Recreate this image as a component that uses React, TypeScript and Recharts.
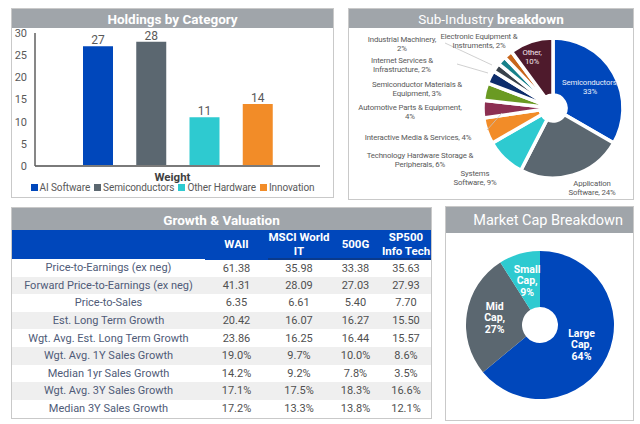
import React from "react";
import { BarChart, Bar, XAxis, YAxis, Cell, LabelList, PieChart, Pie } from "recharts";

const FONT = "Roboto, 'Noto Sans', sans-serif";
const TITLE_GRAY = "#a0a5aa";
const TEXT_GRAY = "#595959";
const BORDER = "#c9c9c9";
const BLUE = "#0047bb";

// Holdings by category
const CATEGORIES = ["AI Software", "Semiconductors", "Other Hardware", "Innovation"];
const CATEGORY_WEIGHTS = [27, 28, 11, 14];
const CATEGORY_COLORS = ["#0047bb", "#5b6770", "#2ecad0", "#f28c28"];
const WEIGHT_TICKS = [0, 5, 10, 15, 20, 25, 30];

// Sub-industry breakdown
const SUB_INDUSTRIES = [
  "Semiconductors",
  "Application Software",
  "Systems Software",
  "Technology Hardware Storage & Peripherals",
  "Interactive Media & Services",
  "Automotive Parts & Equipment",
  "Semiconductor Materials & Equipment",
  "Internet Services & Infrastructure",
  "Industrial Machinery",
  "Electronic Equipment & Instruments",
  "Other",
];
const SUB_WEIGHTS = [33, 24, 9, 6, 4, 4, 3, 2, 2, 2, 10];
const SUB_COLORS = [
  "#0047bb", "#5b6770", "#2ecad0", "#f28c28", "#8c2f52", "#6a9a22",
  "#0d2d6c", "#3a434c", "#17818a", "#c8661a", "#4e1a2c",
];
const SUB_LABEL_LINES = [
  ["Semiconductors,", "33%"],
  ["Application", "Software, 24%"],
  ["Systems", "Software, 9%"],
  ["Technology Hardware Storage &", "Peripherals, 6%"],
  ["Interactive Media & Services, 4%"],
  ["Automotive Parts & Equipment,", "4%"],
  ["Semiconductor Materials &", "Equipment, 3%"],
  ["Internet Services &", "Infrastructure, 2%"],
  ["Industrial Machinery,", "2%"],
  ["Electronic Equipment &", "Instruments, 2%"],
  ["Other,", "10%"],
];

// Market cap
const CAP_NAMES = ["Large Cap", "Mid Cap", "Small Cap"];
const CAP_WEIGHTS = [64, 27, 9];
const CAP_COLORS = ["#0047bb", "#5b6770", "#2ecad0"];

// Growth & valuation table
const METRICS = [
  "Price-to-Earnings (ex neg)",
  "Forward Price-to-Earnings (ex neg)",
  "Price-to-Sales",
  "Est. Long Term Growth",
  "Wgt. Avg. Est. Long Term Growth",
  "Wgt. Avg. 1Y Sales Growth",
  "Median 1yr Sales Growth",
  "Wgt. Avg. 3Y Sales Growth",
  "Median 3Y Sales Growth",
];
const BENCHMARKS = [["WAII"], ["MSCI World", "IT"], ["500G"], ["SP500", "Info Tech"]];
const WAII = ["61.38", "41.31", "6.35", "20.42", "23.86", "19.0%", "14.2%", "17.1%", "17.2%"];
const MSCI_WORLD_IT = ["35.98", "28.09", "6.61", "16.07", "16.25", "9.7%", "9.2%", "17.5%", "13.3%"];
const SP500_GROWTH = ["33.38", "27.03", "5.40", "16.27", "16.44", "10.0%", "7.8%", "18.3%", "13.8%"];
const SP500_INFO_TECH = ["35.63", "27.93", "7.70", "15.50", "15.57", "8.6%", "3.5%", "16.6%", "12.1%"];

// label placement around the sub-industry pie (offsets from the pie centre)
const SUB_LABEL_LAYOUT: { dx: number; dy: number; fill: string; line?: number[] }[] = [
  { dx: 37, dy: -21, fill: "#e8eefa" },
  { dx: 39, dy: 80, fill: TEXT_GRAY },
  { dx: -78, dy: 70, fill: TEXT_GRAY },
  { dx: -133, dy: 52, fill: TEXT_GRAY },
  { dx: -135, dy: 29, fill: TEXT_GRAY, line: [-66, 22, -51, 5] },
  { dx: -143, dy: 4, fill: TEXT_GRAY },
  { dx: -136, dy: -19, fill: TEXT_GRAY },
  { dx: -151, dy: -43, fill: TEXT_GRAY, line: [-96, -44, -65, -35] },
  { dx: -151, dy: -64, fill: TEXT_GRAY },
  { dx: -74, dy: -67, fill: TEXT_GRAY, line: [-108, -65, -61, -43] },
  { dx: -21, dy: -51, fill: "#f3e4ea" },
];

const RAD = Math.PI / 180;

function SubLabel(props: any) {
  const { cx, cy, index } = props;
  const lay = SUB_LABEL_LAYOUT[index];
  const lines = SUB_LABEL_LINES[index];
  const lh = 9;
  const y0 = cy + lay.dy - ((lines.length - 1) * lh) / 2;
  return (
    <g>
      {lay.line && (
        <line
          x1={cx + lay.line[0]} y1={cy + lay.line[1]}
          x2={cx + lay.line[2]} y2={cy + lay.line[3]}
          stroke="#c4c4c4" strokeWidth={0.8}
        />
      )}
      <text x={cx + lay.dx} y={y0} textAnchor="middle" fill={lay.fill} fontSize={7.8}
        fontFamily={FONT} letterSpacing={-0.15}>
        {lines.map((l, i) => (
          <tspan key={i} x={cx + lay.dx} y={y0 + i * lh} dominantBaseline="central">{l}</tspan>
        ))}
      </text>
    </g>
  );
}

function CapLabel(props: any) {
  const { cx, cy, midAngle, outerRadius, index } = props;
  const r = outerRadius * 0.62;
  const x = cx + r * Math.cos(-midAngle * RAD);
  const y = cy + r * Math.sin(-midAngle * RAD);
  const parts = CAP_NAMES[index].split(" ");
  const lines = [parts[0], parts[1] + ",", CAP_WEIGHTS[index] + "%"];
  const lh = 11.5;
  return (
    <text x={x} y={y} textAnchor="middle" fill="#fff" fontSize={10.5} fontWeight={700} fontFamily={FONT}>
      {lines.map((l, i) => (
        <tspan key={i} x={x} y={y + (i - 1) * lh} dominantBaseline="central">{l}</tspan>
      ))}
    </text>
  );
}

function Panel({ left, top, width, height, titleHeight, children, title, titleAlign }: any) {
  return (
    <div style={{ position: "absolute", left, top, width, height, border: `1px solid ${BORDER}`, boxSizing: "border-box", background: "#fff" }}>
      <div style={{
        height: titleHeight, background: TITLE_GRAY, color: "#fff", display: "flex", alignItems: "center",
        justifyContent: titleAlign || "center", paddingRight: titleAlign ? 10 : 0, fontFamily: FONT,
      }}>
        {title}
      </div>
      {children}
    </div>
  );
}

export default function App() {
  const barData = CATEGORIES.map((name, i) => ({ name, weight: CATEGORY_WEIGHTS[i] }));
  const subData = SUB_INDUSTRIES.map((name, i) => ({ name, value: SUB_WEIGHTS[i] }));
  const capData = CAP_NAMES.map((name, i) => ({ name, value: CAP_WEIGHTS[i] }));
  const columns = [WAII, MSCI_WORLD_IT, SP500_GROWTH, SP500_INFO_TECH];

  return (
    <div style={{ position: "absolute", left: 0, top: 0, width: 640, height: 424, background: "#fff", fontFamily: FONT }}>
      <Panel left={11} top={8} width={323} height={190} titleHeight={19}
        title={<span style={{ fontSize: 13.5, fontWeight: 700 }}>Holdings by Category</span>} />
      <Panel left={348} top={8} width={286} height={192} titleHeight={19}
        title={<span style={{ fontSize: 13.5 }}>Sub-Industry <b>breakdown</b></span>} />
      <Panel left={11} top={207} width={421} height={212} titleHeight={23}
        title={<span style={{ fontSize: 13.5, fontWeight: 700 }}>Growth &amp; Valuation</span>} />
      <Panel left={445} top={206} width={189} height={215} titleHeight={26} titleAlign="flex-end"
        title={<span style={{ fontSize: 14.5 }}>Market Cap Breakdown</span>} />

      {/* Holdings bar chart */}
      <div style={{ position: "absolute", left: 0, top: 0 }}>
        <BarChart width={330} height={200} data={barData} margin={{ top: 33, right: 10, bottom: 33, left: 0 }}>
          <XAxis dataKey="name" tick={false} height={1} padding={{ left: 36, right: 36 }}
            axisLine={{ stroke: "#7a7a7a", strokeWidth: 2 }} tickLine={false} />
          <YAxis width={35} domain={[0, 30]} ticks={WEIGHT_TICKS} tickLine={false}
            axisLine={{ stroke: "#5f5f5f", strokeWidth: 1.5 }}
            tick={{ fill: TEXT_GRAY, fontSize: 11, fontFamily: FONT }} />
          <Bar dataKey="weight" barSize={30} isAnimationActive={false}>
            {barData.map((d, i) => <Cell key={d.name} fill={CATEGORY_COLORS[i]} />)}
            <LabelList dataKey="weight" position="top" offset={2} fill={TEXT_GRAY} fontSize={12} fontFamily={FONT} />
          </Bar>
        </BarChart>
      </div>
      <div style={{ position: "absolute", left: 11, width: 323, top: 171, lineHeight: "13px", textAlign: "center", fontSize: 11.5, fontWeight: 700, color: "#404040" }}>
        Weight
      </div>
      <div style={{
        position: "absolute", left: 11, width: 323, top: 182, lineHeight: "11px", display: "flex",
        justifyContent: "center", gap: 4, fontSize: 10, letterSpacing: -0.1, color: TEXT_GRAY,
      }}>
        {CATEGORIES.map((c, i) => (
          <span key={c} style={{ display: "flex", alignItems: "center", gap: 2 }}>
            <span style={{ width: 7, height: 7, background: CATEGORY_COLORS[i], display: "inline-block" }} />
            {c}
          </span>
        ))}
      </div>

      {/* Sub-industry pie */}
      <div style={{ position: "absolute", left: 348, top: 27 }}>
        <PieChart width={286} height={172} margin={{ top: 0, right: 0, bottom: 0, left: 0 }}>
          <Pie data={subData} dataKey="value" cx={205} cy={81} outerRadius={70} innerRadius={13}
            startAngle={90} endAngle={-270} stroke="#fff" strokeWidth={3.5}
            label={SubLabel} labelLine={false} isAnimationActive={false}>
            {subData.map((d, i) => <Cell key={d.name} fill={SUB_COLORS[i]} />)}
          </Pie>
        </PieChart>
      </div>

      {/* Growth & valuation table */}
      <table style={{
        position: "absolute", left: 12, top: 230, width: 419, borderCollapse: "collapse", tableLayout: "fixed",
        fontFamily: FONT,
      }}>
        <colgroup>
          <col style={{ width: 193 }} />
          <col style={{ width: 63 }} />
          <col style={{ width: 62 }} />
          <col style={{ width: 51 }} />
          <col style={{ width: 50 }} />
        </colgroup>
        <thead>
          <tr style={{ height: 29, background: BLUE }}>
            <th style={{ padding: 0 }} />
            {BENCHMARKS.map((b, i) => (
              <th key={i} style={{
                padding: 0, color: "#fff", fontSize: 11.5, fontWeight: 700, lineHeight: "14px",
                borderBottom: i > 0 ? "2px solid #0a3a8c" : "2px solid " + BLUE,
              }}>
                {b.map((l, k) => <div key={k}>{l}</div>)}
              </th>
            ))}
          </tr>
        </thead>
        <tbody>
          {METRICS.map((m, r) => (
            <tr key={m} style={{ height: 17.6, background: r % 2 ? "#efefef" : "#fff" }}>
              <td style={{ padding: 0, textAlign: "center", fontSize: 11, color: "#4f5b78" }}>{m}</td>
              {columns.map((col, c) => (
                <td key={c} style={{ padding: 0, textAlign: "center", fontSize: 11, color: "#505050" }}>{col[r]}</td>
              ))}
            </tr>
          ))}
        </tbody>
      </table>

      {/* Market cap pie */}
      <div style={{ position: "absolute", left: 445, top: 232 }}>
        <PieChart width={188} height={188} margin={{ top: 0, right: 0, bottom: 0, left: 0 }}>
          <Pie data={capData} dataKey="value" cx={95} cy={93} outerRadius={74} innerRadius={18}
            startAngle={90} endAngle={-270} stroke="none"
            label={CapLabel} labelLine={false} isAnimationActive={false}>
            {capData.map((d, i) => <Cell key={d.name} fill={CAP_COLORS[i]} />)}
          </Pie>
        </PieChart>
      </div>
    </div>
  );
}
